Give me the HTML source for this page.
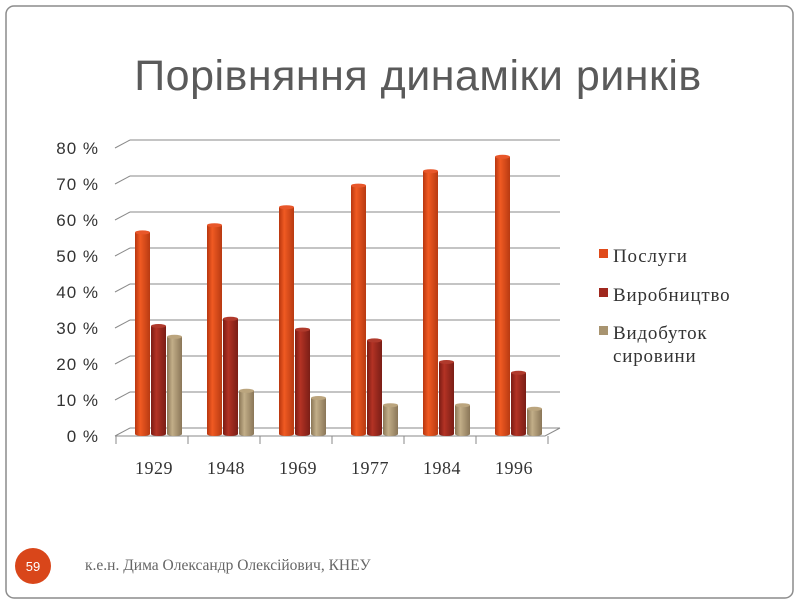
<!DOCTYPE html>
<html><head><meta charset="utf-8"><style>
body{margin:0;background:#fff;width:800px;height:600px;overflow:hidden}
</style></head><body>
<svg width="800" height="600" xmlns="http://www.w3.org/2000/svg">
<defs>
<linearGradient id="g1" x1="0" x2="1"><stop offset="0" stop-color="#b8360f"/><stop offset="0.35" stop-color="#f05a22"/><stop offset="1" stop-color="#b83a12"/></linearGradient>
<linearGradient id="g2" x1="0" x2="1"><stop offset="0" stop-color="#7a1c14"/><stop offset="0.35" stop-color="#b33224"/><stop offset="1" stop-color="#7a1e16"/></linearGradient>
<linearGradient id="g3" x1="0" x2="1"><stop offset="0" stop-color="#8a7656"/><stop offset="0.35" stop-color="#c2ae88"/><stop offset="1" stop-color="#8a7658"/></linearGradient>
</defs>
<rect x="6" y="6" width="787" height="592" rx="8" fill="none" stroke="#8c8c8c" stroke-width="1.5"/>
<text x="418" y="90" text-anchor="middle" font-family="Liberation Sans, sans-serif" font-size="43" letter-spacing="0.5" fill="#5a5a5a">Порівняння динаміки ринків</text>
<g stroke="#8a8a8a" stroke-width="1" fill="none">
<path d="M130,140H560M130,176H560M130,212H560M130,248H560M130,284H560M130,320H560M130,356H560M130,392H560M130,428H560"/>
<path d="M115,148L130,140M115,184L130,176M115,220L130,212M115,256L130,248M115,292L130,284M115,328L130,320M115,364L130,356M115,400L130,392M115,436L130,428"/>
<path d="M115,436H545L560,428"/>
<path d="M116,436V444M188,436V444M260,436V444M332,436V444M404,436V444M476,436V444M548,436V444"/>
</g>
<g font-family="Liberation Sans, sans-serif" font-size="17" letter-spacing="1" fill="#333" text-anchor="end">
<text x="99" y="154">80 %</text><text x="99" y="190">70 %</text><text x="99" y="226">60 %</text><text x="99" y="262">50 %</text><text x="99" y="298">40 %</text><text x="99" y="334">30 %</text><text x="99" y="370">20 %</text><text x="99" y="406">10 %</text><text x="99" y="442">0 %</text>
</g>
<g font-family="Liberation Serif, serif" font-size="18" letter-spacing="0.5" fill="#333" text-anchor="middle">
<text x="154" y="474">1929</text><text x="226" y="474">1948</text><text x="298" y="474">1969</text><text x="370" y="474">1977</text><text x="442" y="474">1984</text><text x="514" y="474">1996</text>
</g>
<g id="bars"></g>
<g font-family="Liberation Serif, serif" font-size="19" letter-spacing="0.8" fill="#333">
<rect x="599" y="249" width="9" height="9" fill="#e04a1a"/><text x="613" y="262">Послуги</text>
<rect x="599" y="288" width="9" height="9" fill="#a0281e"/><text x="613" y="301">Виробництво</text>
<rect x="599" y="326" width="9" height="9" fill="#a89470"/><text x="613" y="339">Видобуток</text>
<text x="613" y="362">сировини</text>
</g>
<circle cx="33" cy="566" r="18" fill="#d9461a"/>
<text x="33" y="571" text-anchor="middle" font-family="Liberation Sans, sans-serif" font-size="13" fill="#fff">59</text>
<text x="85" y="570" font-family="Liberation Serif, serif" font-size="15.5" fill="#666">к.е.н. Дима Олександр Олексійович, КНЕУ</text>
</svg>
<script>
var d=[[56,30,27],[58,32,12],[63,29,10],[69,26,8],[73,20,8],[77,17,7]];
var s='';var gs=['g1','g2','g3'];var tc=['#e8572a','#b03a2c','#bba57e'];
for(var i=0;i<6;i++)for(var j=0;j<3;j++){
var x=135+i*72+j*16,w=15,b=434,t=b-d[i][j]*3.6;
s+='<rect x="'+x+'" y="'+t+'" width="'+w+'" height="'+(b-t)+'" fill="url(#'+gs[j]+')"/>';
s+='<ellipse cx="'+(x+w/2)+'" cy="'+b+'" rx="'+w/2+'" ry="2" fill="url(#'+gs[j]+')"/>';
s+='<ellipse cx="'+(x+w/2)+'" cy="'+t+'" rx="'+w/2+'" ry="2" fill="'+tc[j]+'"/>';}
document.getElementById('bars').innerHTML=s;
</script>
</body></html>
